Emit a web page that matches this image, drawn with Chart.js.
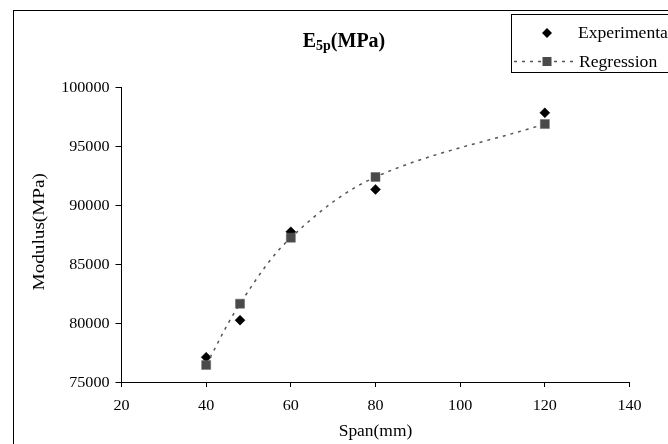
<!DOCTYPE html>
<html><head><meta charset="utf-8">
<script src="https://cdn.jsdelivr.net/npm/chart.js@4"></script>
<style>html,body{margin:0;padding:0;background:#fff;overflow:hidden}#c{display:block}</style>
</head><body>
<canvas id="c" width="668" height="444"></canvas>
<script>
// ---- data ----
const spans = [40, 48, 60, 80, 120];
const experimental = [77100, 80250, 87750, 91350, 97850];
const regression = [76450, 81650, 87250, 92400, 96900];
const xTickValues = [20, 40, 60, 80, 100, 120, 140];
const yTickValues = [75000, 80000, 85000, 90000, 95000, 100000];
const seriesNames = ['Experimental', 'Regression'];
const chartTitleMain = 'E';
const chartTitleSub = '5p';
const chartTitleRest = '(MPa)';
const xTitle = 'Span(mm)';
const yTitle = 'Modulus(MPa)';

const FONT = '"Liberation Serif", "Times New Roman", serif';

function sText(ctx, txt, x, y, size, bold, align, sx) {
  ctx.save();
  ctx.font = (bold ? 'bold ' : '') + size + 'px ' + FONT;
  ctx.textBaseline = 'alphabetic';
  ctx.textAlign = 'left';
  const w = ctx.measureText(txt).width * sx;
  const x0 = align === 'center' ? x - w / 2 : (align === 'right' ? x - w : x);
  ctx.translate(x0, y);
  ctx.scale(sx, 1);
  ctx.fillStyle = '#000';
  ctx.fillText(txt, 0, 0);
  ctx.restore();
  return w;
}

const decor = {
  id: 'decor',
  beforeDraw(chart) {
    const ctx = chart.ctx;
    ctx.save();
    ctx.fillStyle = '#fff';
    ctx.fillRect(0, 0, chart.width, chart.height);
    ctx.strokeStyle = '#000';
    ctx.lineWidth = 1;
    ctx.strokeRect(13.5, 10.5, 800, 600);
    ctx.restore();
  },
  afterDraw(chart) {
    const ctx = chart.ctx;
    const xs = chart.scales.x, ys = chart.scales.y;
    // tick labels
    xs.ticks.forEach(t => {
      sText(ctx, String(t.value), xs.getPixelForValue(t.value), 410, 14, false, 'center', 1.15);
    });
    ys.ticks.forEach(t => {
      sText(ctx, String(t.value), 109.5, ys.getPixelForValue(t.value) + 4.7, 14, false, 'right', 1.15);
    });
    // axis titles
    sText(ctx, xTitle, (xs.left + xs.right) / 2, 436, 16, false, 'center', 1.09);
    ctx.save();
    ctx.translate(44, (ys.top + ys.bottom) / 2 - 3);
    ctx.rotate(-Math.PI / 2);
    sText(ctx, yTitle, 0, 0, 16, false, 'center', 1.2);
    ctx.restore();
    // chart title
    ctx.save();
    ctx.font = 'bold 20px ' + FONT;
    const w1 = ctx.measureText(chartTitleMain).width;
    const w3 = ctx.measureText(chartTitleRest).width;
    ctx.font = 'bold 14px ' + FONT;
    const w2 = ctx.measureText(chartTitleSub).width;
    ctx.restore();
    let tx = 344 - (w1 + w2 + w3) / 2;
    tx += sText(ctx, chartTitleMain, tx, 46.7, 20, true, 'left', 1);
    tx += sText(ctx, chartTitleSub, tx, 49.5, 14, true, 'left', 1);
    sText(ctx, chartTitleRest, tx, 46.7, 20, true, 'left', 1);
    // legend
    ctx.save();
    ctx.fillStyle = '#fff';
    ctx.strokeStyle = '#000';
    ctx.lineWidth = 1;
    ctx.fillRect(511.5, 14.5, 300, 58);
    ctx.strokeRect(511.5, 14.5, 300, 58);
    // experimental marker
    ctx.fillStyle = '#000';
    ctx.beginPath();
    ctx.moveTo(547, 28); ctx.lineTo(552, 33); ctx.lineTo(547, 38); ctx.lineTo(542, 33); ctx.closePath();
    ctx.fill();
    // regression line + marker
    ctx.strokeStyle = '#555';
    ctx.lineWidth = 1.5;
    ctx.setLineDash([3, 5]);
    ctx.beginPath(); ctx.moveTo(514, 61.5); ctx.lineTo(578, 61.5); ctx.stroke();
    ctx.setLineDash([]);
    ctx.fillStyle = '#4a4a4a';
    ctx.fillRect(542.5, 57, 9, 9);
    ctx.restore();
    sText(ctx, seriesNames[0], 578, 37.7, 16, false, 'left', 1.1);
    sText(ctx, seriesNames[1], 579, 66.7, 16, false, 'left', 1.1);
  }
};

new Chart(document.getElementById('c'), {
  type: 'scatter',
  data: {
    datasets: [
      {
        label: seriesNames[1],
        data: spans.map((x, i) => ({ x, y: regression[i] })),
        showLine: true,
        tension: 0.35,
        borderColor: '#555',
        borderWidth: 1.5,
        borderDash: [3, 5],
        pointStyle: 'rect',
        pointRadius: 6.4,
        pointBackgroundColor: '#4a4a4a',
        pointBorderColor: '#666',
        pointBorderWidth: 0.5
      },
      {
        label: seriesNames[0],
        data: spans.map((x, i) => ({ x, y: experimental[i] })),
        showLine: false,
        pointStyle: 'rectRot',
        pointRadius: 5,
        pointBackgroundColor: '#000',
        pointBorderColor: '#000',
        pointBorderWidth: 0.5
      }
    ]
  },
  options: {
    responsive: false,
    animation: false,
    devicePixelRatio: 1,
    layout: { padding: { left: 0, top: 87.5, right: 38.5, bottom: 0 } },
    plugins: { legend: { display: false }, title: { display: false }, tooltip: { enabled: false } },
    scales: {
      x: {
        type: 'linear', min: xTickValues[0], max: xTickValues[xTickValues.length - 1],
        afterBuildTicks: s => { s.ticks = xTickValues.map(v => ({ value: v })); },
        afterFit: s => { s.height = 62; },
        ticks: { display: false },
        grid: { drawOnChartArea: false, drawTicks: true, tickLength: 5, color: '#000' },
        border: { display: true, color: '#000', width: 1 }
      },
      y: {
        type: 'linear', min: yTickValues[0], max: yTickValues[yTickValues.length - 1],
        afterBuildTicks: s => { s.ticks = yTickValues.map(v => ({ value: v })); },
        afterFit: s => { s.width = 121.5; },
        ticks: { display: false },
        grid: { drawOnChartArea: false, drawTicks: true, tickLength: 6, color: '#000' },
        border: { display: true, color: '#000', width: 1 }
      }
    }
  },
  plugins: [decor]
});
</script>
</body></html>
